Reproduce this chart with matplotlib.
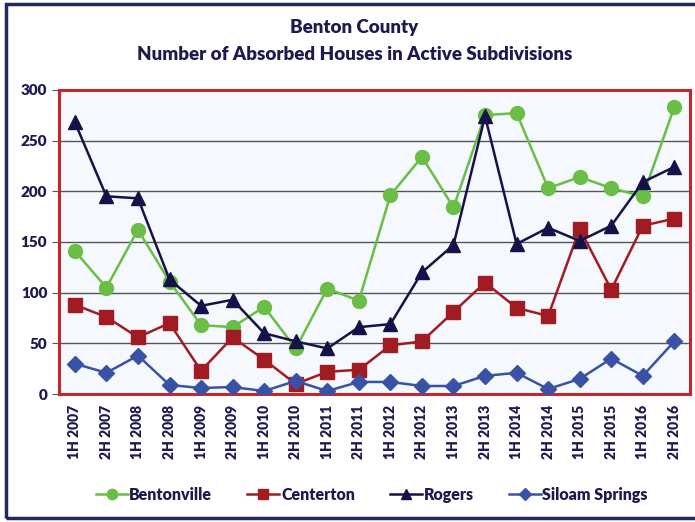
import matplotlib.pyplot as plt
from matplotlib.patches import Rectangle

plt.rcParams['font.family'] = ['Lato', 'DejaVu Sans']

periods = ["1H 2007", "2H 2007", "1H 2008", "2H 2008", "1H 2009", "2H 2009",
           "1H 2010", "2H 2010", "1H 2011", "2H 2011", "1H 2012", "2H 2012",
           "1H 2013", "2H 2013", "1H 2014", "2H 2014", "1H 2015", "2H 2015",
           "1H 2016", "2H 2016"]

bentonville = [141, 105, 162, 111, 68, 66, 86, 45, 104, 92,
               196, 234, 184, 275, 277, 203, 214, 203, 195, 283]
centerton = [88, 76, 56, 70, 23, 56, 34, 10, 22, 24,
             48, 52, 81, 110, 85, 77, 163, 103, 166, 173]
rogers = [268, 195, 193, 113, 87, 93, 60, 52, 45, 66,
          69, 120, 147, 274, 148, 164, 151, 166, 209, 224]
siloam = [30, 21, 38, 9, 6, 7, 3, 13, 3, 12,
          12, 8, 8, 18, 21, 5, 15, 35, 18, 52]

text_color = "#1c1a4e"
heavy = "heavy"

fig = plt.figure(figsize=(6.95, 5.22), dpi=100)
ax = fig.add_axes([0.085, 0.245, 0.908, 0.583])
ax.set_facecolor("#f5f8fd")

x = list(range(len(periods)))
ax.plot(x, bentonville, color="#6abd45", lw=1.8, marker="o", ms=10, label="Bentonville", zorder=3)
ax.plot(x, centerton, color="#a11c22", lw=1.8, marker="s", ms=9.5, label="Centerton", zorder=3)
ax.plot(x, rogers, color="#15124a", lw=1.8, marker="^", ms=10, label="Rogers", zorder=4)
ax.plot(x, siloam, color="#3a52a5", lw=1.8, marker="D", ms=8, label="Siloam Springs", zorder=3)

ax.set_xlim(-0.5, 19.5)
ax.set_ylim(0, 300)
ax.set_yticks(range(0, 301, 50))
ax.set_xticks(x)
ax.set_xticklabels(periods, rotation=90, fontsize=10, fontweight=heavy, color=text_color)
ax.tick_params(axis="x", length=0, pad=8)
ax.tick_params(axis="y", length=5, color="#555555", labelsize=11, labelcolor=text_color)
for lbl in ax.get_yticklabels():
    lbl.set_fontweight(heavy)

ax.yaxis.grid(True, color="#555555", lw=1.0)
ax.set_axisbelow(True)
for s in ax.spines.values():
    s.set_color("#c1272d")
    s.set_linewidth(2.2)

fig.text(0.51, 0.948, "Benton County", ha="center", va="center",
         fontsize=13.5, fontweight=heavy, color=text_color)
fig.text(0.51, 0.895, "Number of Absorbed Houses in Active Subdivisions", ha="center", va="center",
         fontsize=13.5, fontweight=heavy, color=text_color)

leg = fig.legend(loc="center", bbox_to_anchor=(0.535, 0.052), ncol=4, frameon=False,
                 handlelength=2.0, handletextpad=0.1, columnspacing=2.2, markerscale=0.75,
                 prop={"size": 11.5, "weight": heavy})
for t in leg.get_texts():
    t.set_color(text_color)

# outer frame around the whole chart
fig.patches.append(Rectangle((0.009, 0.008), 1.0, 0.985, transform=fig.transFigure,
                             fill=False, edgecolor="#1f2a5c", lw=2.5))

fig.savefig("out.png", dpi=100)
